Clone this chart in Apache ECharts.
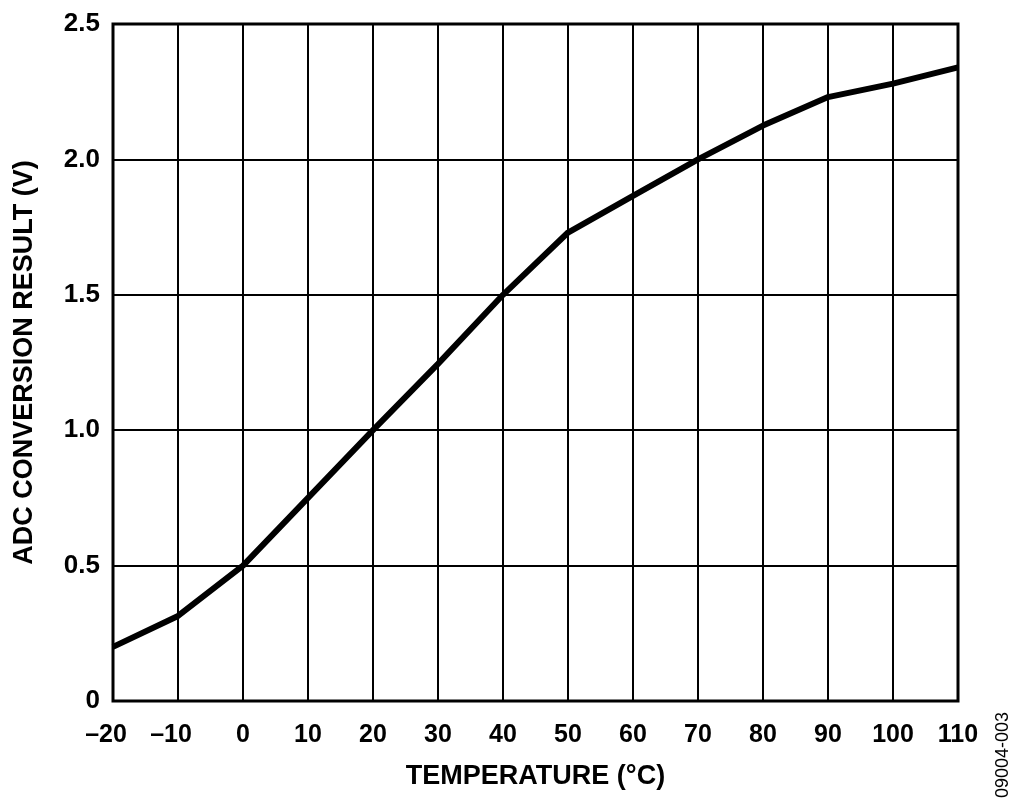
<!DOCTYPE html>
<html>
<head>
<meta charset="utf-8">
<script src="https://cdn.jsdelivr.net/npm/echarts@6/dist/echarts.min.js"></script>
<style>
  html, body { margin: 0; padding: 0; background: #fff; }
  #chart { width: 1024px; height: 809px; }
</style>
</head>
<body>
<div id="chart"></div>
<script>
// temperature (°C) vs ADC result (V)
const temperature = [-20, -10, 0, 10, 20, 30, 40, 50, 60, 70, 80, 90, 100, 110];
const adcResult = [0.20, 0.314, 0.50, 0.75, 1.00, 1.245, 1.50, 1.73, 1.865, 2.00, 2.125, 2.23, 2.28, 2.34];

const chart = echarts.init(document.getElementById('chart'));
const font = 'Liberation Sans, Arial, sans-serif';

chart.setOption({
    animation: false,
    grid: { left: 113, right: 66, top: 24, bottom: 108, show: true, borderColor: '#000', borderWidth: 3 },
    xAxis: {
        type: 'value', min: -20, max: 110, interval: 10,
        name: 'TEMPERATURE (°C)', nameLocation: 'middle', nameGap: 62,
        nameTextStyle: { fontFamily: font, fontWeight: 'bold', fontSize: 27, color: '#000' },
        axisLine: { show: false },
        axisTick: { show: false },
        axisLabel: {
            fontFamily: font, fontWeight: 'bold', fontSize: 25, color: '#000', margin: 22,
            // minus sign hangs to the left, digits stay centred on the tick
            formatter: v => v < 0 ? '\u2013' + Math.abs(v) + '{gap|\u2013}' : String(v),
            rich: { gap: { fontFamily: font, fontWeight: 'bold', fontSize: 25, color: 'rgba(0,0,0,0)' } }
        },
        splitLine: { show: true, lineStyle: { color: '#000', width: 2 } }
    },
    yAxis: {
        type: 'value', min: 0, max: 2.5, interval: 0.5,
        name: 'ADC CONVERSION RESULT (V)', nameLocation: 'middle', nameGap: 75,
        nameTextStyle: { fontFamily: font, fontWeight: 'bold', fontSize: 27, color: '#000' },
        axisLine: { show: false },
        axisTick: { show: false },
        axisLabel: {
            fontFamily: font, fontWeight: 'bold', fontSize: 26, color: '#000', margin: 13,
            formatter: v => v === 0 ? '0' : v.toFixed(1)
        },
        splitLine: { show: true, lineStyle: { color: '#000', width: 2 } }
    },
    graphic: [{
        type: 'text', left: 994, top: 712, rotation: Math.PI / 2,
        style: { text: '09004-003', fontFamily: font, fontSize: 18, fill: '#000' }
    }],
    series: [{
        type: 'line',
        data: temperature.map((t, i) => [t, adcResult[i]]),
        showSymbol: false,
        lineStyle: { color: '#000', width: 6 }
    }]
});
</script>
</body>
</html>
